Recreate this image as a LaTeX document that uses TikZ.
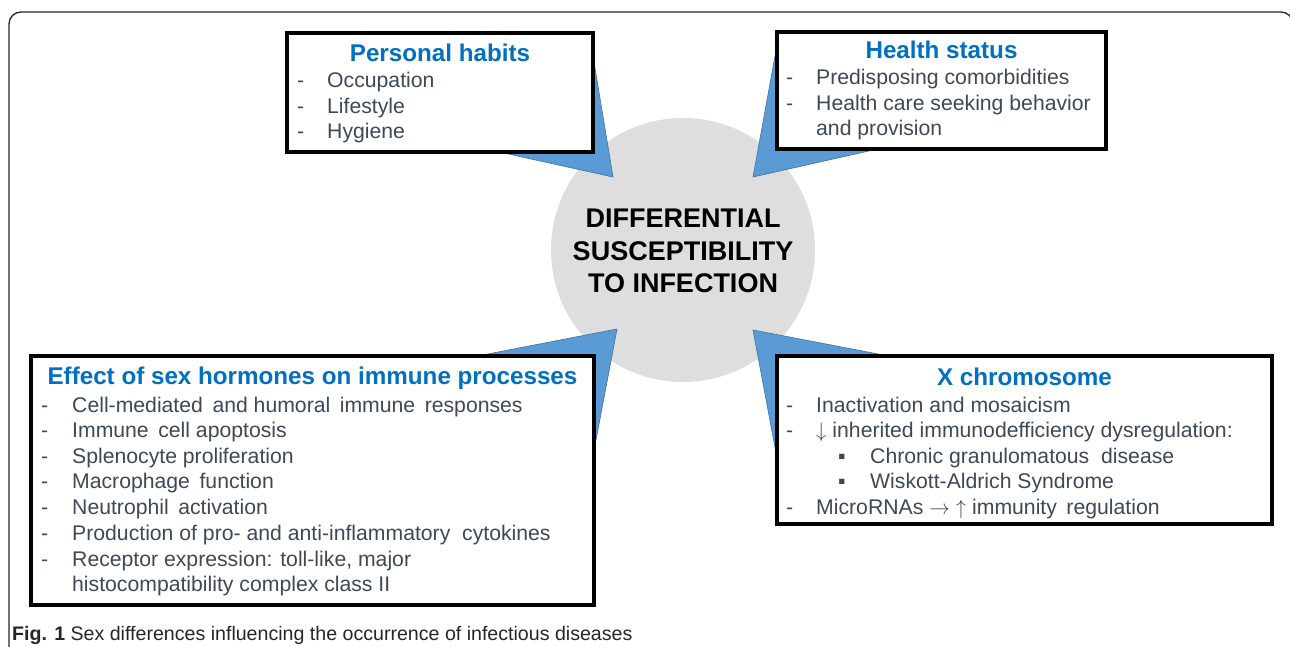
\documentclass[tikz,border=0pt]{standalone}
\usepackage{fontspec}
\setmainfont{Liberation Sans}
\definecolor{titleblue}{HTML}{0070C0}
\definecolor{bodygray}{HTML}{3E4858}
\definecolor{arrowblue}{HTML}{5B9BD5}
\definecolor{arrowedge}{HTML}{41719C}
\definecolor{circgray}{HTML}{DEDEDE}
\tikzset{
  boxnode/.style={draw=black, line width=4pt, fill=white, inner sep=0pt},
  titletext/.style={font=\fontsize{24.2}{28}\selectfont\bfseries, text=titleblue, anchor=base, inner sep=0pt},
  itemtext/.style={font=\fontsize{21.2}{25}\selectfont, text=bodygray, anchor=base west, inner sep=0pt},
  pointer/.style={fill=arrowblue, draw=arrowedge, line width=0.6pt, line join=miter},
  centertext/.style={font=\fontsize{27}{32}\selectfont\bfseries, text=black, anchor=base, inner sep=0pt},
}
\newcommand{\wsp}{\hspace{0.45em}}
\begin{document}
\begin{tikzpicture}[x=1pt,y=-1pt]
\useasboundingbox (0,0) rectangle (1290,647);
% outer frame
\begin{scope}
\clip (0,0) rectangle (1290,647);
\draw[line width=1.3pt, rounded corners=12pt, color=black!85] (9,700) -- (9,12) -- (1293,12) -- (1293,700);
\end{scope}
% central circle
\node[circle, fill=circgray, minimum size=264pt, inner sep=0pt] (c) at (683,250) {};
\node[centertext] (c1) at (683,228) {DIFFERENTIAL};
\node[centertext] (c2) at (683,260) {SUSCEPTIBILITY};
\node[centertext] (c3) at (683,292) {TO INFECTION};
% pointers
\coordinate (tTL) at (613,177);
\coordinate (tTR) at (753,177);
\coordinate (tBL) at (617,329);
\coordinate (tBR) at (753,330);
\draw[pointer] (tTL) -- (470,145.6) -- (560,100) -- (592,50) -- cycle;
\draw[pointer] (tTR) -- (900,144) -- (810,100) -- (777,45) -- cycle;
\draw[pointer] (tBL) -- (450,361.3) -- (540,420) -- (590.3,470) -- cycle;
\draw[pointer] (tBR) -- (920,362) -- (830,420) -- (779.2,470) -- cycle;
% boxes
\node[boxnode, minimum width=306pt, minimum height=119pt] (ph) at (440,92.5) {};
\node[boxnode, minimum width=329pt, minimum height=117pt] (hs) at (941.5,90.5) {};
\node[boxnode, minimum width=563pt, minimum height=249pt] (ef) at (312.5,480.5) {};
\node[boxnode, minimum width=495pt, minimum height=168pt] (xc) at (1024.5,440) {};
% Personal habits
\node[titletext] (pht) at (440,61.5) {Personal habits};
\node[itemtext] (phd1) at (297,88) {-};
\node[itemtext] (phi1) at (327,88) {Occupation};
\node[itemtext] (phd2) at (297,113.5) {-};
\node[itemtext] (phi2) at (327,113.5) {Lifestyle};
\node[itemtext] (phd3) at (297,139) {-};
\node[itemtext] (phi3) at (327,139) {Hygiene};
% Health status
\node[titletext] (hst) at (941.5,58.5) {Health status};
\node[itemtext] (hsd1) at (786,85) {-};
\node[itemtext] (hsi1) at (816,85) {Predisposing comorbidities};
\node[itemtext] (hsd2) at (786,110.5) {-};
\node[itemtext] (hsi2) at (816,110.5) {Health care seeking behavior};
\node[itemtext] (hsi3) at (816,136) {and provision};
% Effect of sex hormones
\node[titletext] (eft) at (312.5,384.5) {Effect of sex hormones on immune processes};
\node[itemtext] (efd1) at (41,412) {-};
\node[itemtext] (efi1) at (72,412) {Cell-mediated\wsp and humoral\wsp immune\wsp responses};
\node[itemtext] (efd2) at (41,437.5) {-};
\node[itemtext] (efi2) at (72,437.5) {Immune\wsp cell apoptosis};
\node[itemtext] (efd3) at (41,463) {-};
\node[itemtext] (efi3) at (72,463) {Splenocyte proliferation};
\node[itemtext] (efd4) at (41,488.5) {-};
\node[itemtext] (efi4) at (72,488.5) {Macrophage\wsp function};
\node[itemtext] (efd5) at (41,514) {-};
\node[itemtext] (efi5) at (72,514) {Neutrophil\wsp activation};
\node[itemtext] (efd6) at (41,540) {-};
\node[itemtext] (efi6) at (72,540) {Production of pro- and anti-inflammatory\ \ cytokines};
\node[itemtext] (efd7) at (41,566) {-};
\node[itemtext] (efi7) at (72,566) {Receptor expression: toll-like, major};
\node[itemtext] (efi8) at (72,591) {histocompatibility complex class II};
% X chromosome
\node[titletext] (xct) at (1024.5,385.5) {X chromosome};
\node[itemtext] (xcd1) at (786,412) {-};
\node[itemtext] (xci1) at (816,412) {Inactivation and mosaicism};
\node[itemtext] (xcd2) at (786,437.5) {-};
\node[itemtext] (xci2) at (816,437.5) {$\downarrow$ inherited immunodefficiency dysregulation:};
\node[itemtext] (xcb1) at (838,463) {▪};
\node[itemtext] (xci3) at (870,463) {Chronic granulomatous\ \ disease};
\node[itemtext] (xcb2) at (838,488.5) {▪};
\node[itemtext] (xci4) at (870,488.5) {Wiskott-Aldrich Syndrome};
\node[itemtext] (xcd3) at (786,514) {-};
\node[itemtext] (xci5) at (816,514) {MicroRNAs $\rightarrow$ $\uparrow$ immunity\wsp regulation};
% caption
\node[font=\fontsize{19.6}{22}\selectfont, text=black!85, anchor=base west, inner sep=0pt] (cap) at (12,640) {\textbf{Fig. 1} Sex differences influencing the occurrence of infectious diseases};
\end{tikzpicture}
\end{document}
